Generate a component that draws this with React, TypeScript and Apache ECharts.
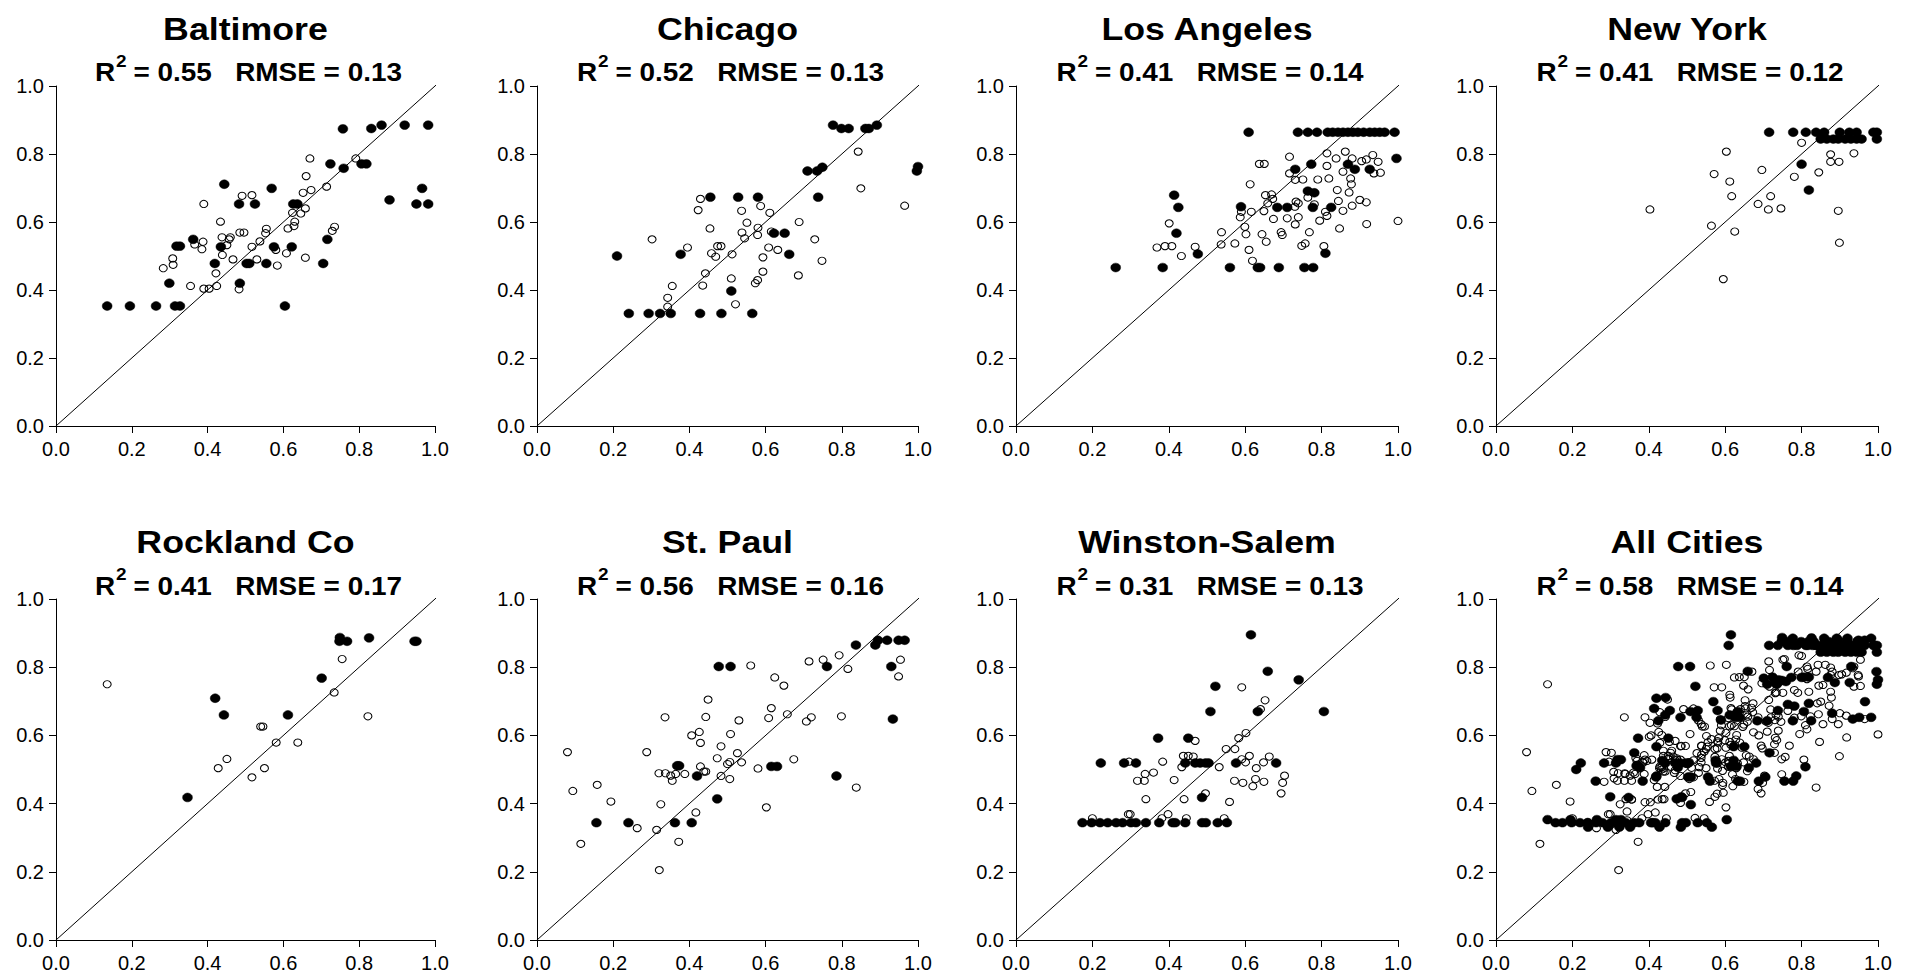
import React, { useEffect, useRef } from "react";
import * as echarts from "echarts";

// ---------- data (observed x, predicted y) ----------
const cityNames = ["Baltimore", "Chicago", "Los Angeles", "New York", "Rockland Co", "St. Paul", "Winston-Salem", "All Cities"];
const r2Values = ["0.55", "0.52", "0.41", "0.41", "0.41", "0.56", "0.31", "0.58"];
const rmseValues = ["0.13", "0.13", "0.14", "0.12", "0.17", "0.16", "0.13", "0.14"];
const tickValues = [0, 0.2, 0.4, 0.6, 0.8, 1.0];

const baltimoreFilled = [
  [0.135, 0.353], [0.195, 0.353], [0.264, 0.353], [0.314, 0.353], [0.327, 0.353], [0.604, 0.353],
  [0.299, 0.42], [0.485, 0.42], [0.419, 0.478], [0.503, 0.478], [0.51, 0.478], [0.555, 0.478], [0.705, 0.478],
  [0.318, 0.529], [0.327, 0.529], [0.435, 0.527], [0.575, 0.527], [0.622, 0.527], [0.362, 0.549], [0.716, 0.549],
  [0.444, 0.711], [0.483, 0.653], [0.525, 0.653], [0.569, 0.699], [0.626, 0.653], [0.637, 0.653],
  [0.951, 0.653], [0.982, 0.653], [0.966, 0.699], [0.88, 0.665], [0.724, 0.771], [0.759, 0.758],
  [0.806, 0.771], [0.819, 0.771], [0.757, 0.874], [0.832, 0.875], [0.859, 0.885], [0.92, 0.885], [0.982, 0.885],
];
const baltimoreOpen = [
  [0.283, 0.464], [0.308, 0.493], [0.309, 0.474], [0.355, 0.412], [0.366, 0.534], [0.385, 0.52], [0.388, 0.542],
  [0.39, 0.653], [0.39, 0.404], [0.404, 0.404], [0.422, 0.449], [0.424, 0.412], [0.434, 0.601], [0.438, 0.555],
  [0.439, 0.503], [0.451, 0.532], [0.457, 0.549], [0.46, 0.555], [0.467, 0.49], [0.483, 0.402], [0.485, 0.569],
  [0.496, 0.569], [0.491, 0.677], [0.517, 0.679], [0.517, 0.527], [0.53, 0.49], [0.538, 0.543], [0.553, 0.567],
  [0.555, 0.58], [0.58, 0.518], [0.584, 0.472], [0.608, 0.508], [0.612, 0.581], [0.624, 0.627], [0.628, 0.588],
  [0.63, 0.601], [0.646, 0.625], [0.652, 0.686], [0.658, 0.64], [0.66, 0.735], [0.658, 0.495], [0.67, 0.787],
  [0.673, 0.694], [0.714, 0.704], [0.729, 0.574], [0.735, 0.586], [0.791, 0.787],
];

const chicagoFilled = [
  [0.21, 0.5], [0.241, 0.331], [0.293, 0.331], [0.323, 0.331], [0.351, 0.331], [0.428, 0.331], [0.484, 0.331],
  [0.565, 0.331], [0.377, 0.505], [0.51, 0.397], [0.455, 0.673], [0.528, 0.673], [0.58, 0.673], [0.622, 0.567],
  [0.65, 0.567], [0.662, 0.505], [0.71, 0.75], [0.735, 0.75], [0.749, 0.761], [0.738, 0.673], [0.777, 0.885],
  [0.799, 0.875], [0.818, 0.875], [0.862, 0.875], [0.871, 0.875], [0.892, 0.885], [0.997, 0.75], [1.0, 0.763],
];
const chicagoOpen = [
  [0.302, 0.549], [0.343, 0.377], [0.343, 0.351], [0.355, 0.412], [0.395, 0.525], [0.423, 0.635], [0.429, 0.668],
  [0.435, 0.413], [0.442, 0.449], [0.454, 0.581], [0.458, 0.508], [0.469, 0.498], [0.474, 0.529], [0.483, 0.529],
  [0.51, 0.434], [0.512, 0.505], [0.521, 0.358], [0.537, 0.633], [0.538, 0.569], [0.545, 0.552], [0.551, 0.598],
  [0.573, 0.42], [0.579, 0.429], [0.579, 0.562], [0.58, 0.583], [0.587, 0.647], [0.593, 0.454], [0.593, 0.496],
  [0.608, 0.525], [0.611, 0.627], [0.615, 0.572], [0.632, 0.518], [0.686, 0.443], [0.688, 0.6], [0.729, 0.549],
  [0.748, 0.486], [0.843, 0.807], [0.85, 0.699], [0.965, 0.648],
];

const losAngelesFilled = [
  [0.261, 0.466], [0.384, 0.466], [0.56, 0.466], [0.633, 0.466], [0.639, 0.466], [0.688, 0.466], [0.755, 0.466],
  [0.778, 0.466], [0.476, 0.506], [0.81, 0.508], [0.414, 0.679], [0.425, 0.643], [0.42, 0.567], [0.589, 0.645],
  [0.684, 0.643], [0.71, 0.643], [0.777, 0.643], [0.825, 0.643], [0.764, 0.691], [0.781, 0.686], [0.731, 0.755],
  [0.773, 0.77], [0.869, 0.77], [0.887, 0.755], [0.926, 0.755], [0.996, 0.787], [0.609, 0.864], [0.738, 0.864],
  [0.764, 0.864], [0.788, 0.864], [0.816, 0.864], [0.829, 0.864], [0.843, 0.864], [0.856, 0.864], [0.869, 0.864],
  [0.882, 0.864], [0.895, 0.864], [0.91, 0.864], [0.926, 0.864], [0.939, 0.864], [0.952, 0.864], [0.965, 0.864],
  [0.991, 0.864],
];
const losAngelesOpen = [
  [0.369, 0.525], [0.39, 0.529], [0.401, 0.596], [0.408, 0.529], [0.433, 0.5], [0.469, 0.527], [0.537, 0.534],
  [0.538, 0.57], [0.573, 0.537], [0.587, 0.614], [0.59, 0.63], [0.599, 0.586], [0.602, 0.564], [0.61, 0.518],
  [0.613, 0.711], [0.616, 0.63], [0.619, 0.486], [0.637, 0.771], [0.65, 0.771], [0.644, 0.564], [0.649, 0.632],
  [0.655, 0.542], [0.653, 0.679], [0.659, 0.655], [0.669, 0.681], [0.672, 0.668], [0.674, 0.609], [0.694, 0.57],
  [0.697, 0.562], [0.71, 0.611], [0.716, 0.792], [0.716, 0.743], [0.731, 0.724], [0.73, 0.645], [0.731, 0.593],
  [0.733, 0.66], [0.739, 0.655], [0.739, 0.614], [0.751, 0.725], [0.748, 0.53], [0.757, 0.537], [0.764, 0.672],
  [0.768, 0.57], [0.781, 0.652], [0.79, 0.725], [0.795, 0.604], [0.806, 0.529], [0.81, 0.63], [0.814, 0.618],
  [0.814, 0.802], [0.814, 0.765], [0.819, 0.728], [0.838, 0.787], [0.841, 0.694], [0.844, 0.662], [0.847, 0.581],
  [0.856, 0.748], [0.856, 0.633], [0.862, 0.807], [0.872, 0.687], [0.876, 0.728], [0.878, 0.711], [0.88, 0.787],
  [0.88, 0.648], [0.9, 0.665], [0.905, 0.779], [0.917, 0.784], [0.917, 0.658], [0.918, 0.594], [0.934, 0.797],
  [0.937, 0.743], [0.948, 0.777], [0.954, 0.745], [1.0, 0.603],
];

const newYorkFilled = [
  [0.715, 0.864], [0.778, 0.864], [0.811, 0.864], [0.838, 0.864], [0.859, 0.864], [0.9, 0.864], [0.925, 0.864],
  [0.944, 0.864], [0.988, 0.864], [0.997, 0.864], [0.85, 0.844], [0.866, 0.844], [0.883, 0.844], [0.896, 0.844],
  [0.914, 0.844], [0.929, 0.844], [0.944, 0.844], [0.957, 0.844], [0.997, 0.844], [0.8, 0.77], [0.819, 0.694],
];
const newYorkOpen = [
  [0.403, 0.637], [0.564, 0.589], [0.571, 0.741], [0.595, 0.432], [0.603, 0.807], [0.612, 0.719], [0.617, 0.676],
  [0.625, 0.572], [0.686, 0.653], [0.696, 0.753], [0.713, 0.637], [0.719, 0.676], [0.746, 0.64], [0.781, 0.733],
  [0.8, 0.833], [0.845, 0.746], [0.876, 0.799], [0.876, 0.777], [0.898, 0.777], [0.896, 0.633], [0.899, 0.539],
  [0.937, 0.802],
];

const rocklandFilled = [
  [0.347, 0.418], [0.42, 0.709], [0.443, 0.66], [0.612, 0.66], [0.701, 0.768], [0.749, 0.887], [0.748, 0.876],
  [0.768, 0.876], [0.826, 0.886], [0.946, 0.876], [0.951, 0.876],
];
const rocklandOpen = [
  [0.135, 0.75], [0.428, 0.504], [0.451, 0.531], [0.517, 0.477], [0.54, 0.626], [0.546, 0.626], [0.55, 0.504],
  [0.581, 0.579], [0.638, 0.579], [0.734, 0.726], [0.755, 0.824], [0.823, 0.656],
];

const stPaulFilled = [
  [0.156, 0.344], [0.24, 0.344], [0.362, 0.344], [0.406, 0.344], [0.368, 0.511], [0.373, 0.511], [0.42, 0.481],
  [0.473, 0.414], [0.477, 0.802], [0.508, 0.802], [0.615, 0.509], [0.63, 0.509], [0.761, 0.802], [0.786, 0.481],
  [0.837, 0.865], [0.888, 0.865], [0.895, 0.879], [0.919, 0.879], [0.949, 0.879], [0.965, 0.879], [0.93, 0.802],
  [0.934, 0.648],
];
const stPaulOpen = [
  [0.08, 0.551], [0.094, 0.437], [0.115, 0.282], [0.158, 0.455], [0.194, 0.406], [0.263, 0.328], [0.288, 0.551],
  [0.314, 0.323], [0.321, 0.205], [0.32, 0.489], [0.325, 0.398], [0.336, 0.653], [0.337, 0.489], [0.351, 0.482],
  [0.355, 0.467], [0.364, 0.487], [0.372, 0.288], [0.388, 0.487], [0.406, 0.6], [0.417, 0.374], [0.426, 0.61],
  [0.429, 0.578], [0.429, 0.509], [0.438, 0.494], [0.443, 0.494], [0.443, 0.654], [0.449, 0.705], [0.473, 0.533],
  [0.483, 0.568], [0.483, 0.481], [0.5, 0.516], [0.506, 0.522], [0.506, 0.472], [0.508, 0.604], [0.526, 0.548],
  [0.53, 0.644], [0.537, 0.521], [0.561, 0.805], [0.58, 0.503], [0.602, 0.389], [0.608, 0.651], [0.615, 0.68],
  [0.624, 0.77], [0.648, 0.746], [0.657, 0.662], [0.674, 0.53], [0.707, 0.641], [0.714, 0.817], [0.72, 0.653],
  [0.751, 0.822], [0.793, 0.835], [0.799, 0.656], [0.816, 0.795], [0.838, 0.447], [0.949, 0.773], [0.954, 0.822],
];

const winstonSalemFilled = [
  [0.174, 0.344], [0.198, 0.344], [0.22, 0.344], [0.24, 0.344], [0.262, 0.344], [0.279, 0.344], [0.301, 0.344],
  [0.314, 0.344], [0.34, 0.344], [0.375, 0.344], [0.41, 0.344], [0.417, 0.344], [0.443, 0.344], [0.487, 0.344],
  [0.497, 0.344], [0.528, 0.344], [0.552, 0.344], [0.222, 0.519], [0.283, 0.519], [0.314, 0.519], [0.443, 0.519],
  [0.469, 0.519], [0.482, 0.519], [0.496, 0.519], [0.504, 0.519], [0.576, 0.519], [0.681, 0.519], [0.372, 0.592],
  [0.451, 0.592], [0.487, 0.418], [0.509, 0.67], [0.522, 0.744], [0.615, 0.895], [0.633, 0.67], [0.659, 0.788],
  [0.74, 0.763], [0.806, 0.67],
];
const winstonSalemOpen = [
  [0.2, 0.357], [0.294, 0.369], [0.299, 0.369], [0.296, 0.523], [0.318, 0.467], [0.336, 0.467], [0.338, 0.487],
  [0.34, 0.413], [0.36, 0.491], [0.382, 0.357], [0.384, 0.523], [0.398, 0.369], [0.414, 0.469], [0.434, 0.507],
  [0.438, 0.54], [0.44, 0.413], [0.446, 0.357], [0.451, 0.54], [0.464, 0.538], [0.469, 0.584], [0.496, 0.43],
  [0.532, 0.507], [0.545, 0.357], [0.55, 0.56], [0.559, 0.405], [0.572, 0.467], [0.573, 0.56], [0.583, 0.592],
  [0.591, 0.741], [0.591, 0.53], [0.594, 0.461], [0.601, 0.521], [0.602, 0.607], [0.611, 0.54], [0.62, 0.451],
  [0.627, 0.472], [0.629, 0.504], [0.64, 0.677], [0.648, 0.521], [0.649, 0.464], [0.652, 0.703], [0.663, 0.538],
  [0.694, 0.43], [0.698, 0.461], [0.703, 0.482],
];

const filledByCity = [baltimoreFilled, chicagoFilled, losAngelesFilled, newYorkFilled, rocklandFilled, stPaulFilled, winstonSalemFilled];
const openByCity = [baltimoreOpen, chicagoOpen, losAngelesOpen, newYorkOpen, rocklandOpen, stPaulOpen, winstonSalemOpen];
const allCitiesFilled = filledByCity.flat();
const allCitiesOpen = openByCity.flat();
const panelFilled = [...filledByCity, allCitiesFilled];
const panelOpen = [...openByCity, allCitiesOpen];
const diagonalEnds = [-0.04, 1.065];

// ---------- layout ----------
const colLeft = [56, 537, 1016, 1496];
const colWidth = [379, 381, 382, 382];
const rowTop = [86, 599];
const rowHeight = [340, 341];
const titleY = [28.5, 542];
const subY = [73, 586.5];
const supY = [61, 574.5];
const SX = 1.117;
const FONT = '"Liberation Sans", Arial, Helvetica, sans-serif';

function measure(text: string, font: string): number {
  const c = document.createElement("canvas").getContext("2d");
  if (!c) return text.length * 14;
  c.font = font;
  return c.measureText(text).width;
}

function textEl(text: string, x: number, y: number, size: number, align: string) {
  return {
    type: "text",
    x,
    y,
    scaleX: SX,
    silent: true,
    style: {
      text,
      font: `bold ${size}px ${FONT}`,
      fill: "#000",
      align,
      textAlign: align,
      verticalAlign: "middle",
      textVerticalAlign: "middle",
    },
  };
}

export default function App() {
  const ref = useRef<HTMLDivElement>(null);

  useEffect(() => {
    document.body.style.margin = "0";
    if (!ref.current) return;
    const chart = echarts.init(ref.current, undefined, { renderer: "svg" });

    const grids: any[] = [];
    const xAxes: any[] = [];
    const yAxes: any[] = [];
    const series: any[] = [];
    const graphics: any[] = [];

    const subFont = `bold 25px ${FONT}`;
    const supFont = `bold 17px ${FONT}`;
    const wR = measure("R", subFont);
    const w2 = measure("2", supFont);
    const wSp = measure(" ", subFont);

    for (let i = 0; i < 8; i++) {
      const r = Math.floor(i / 4);
      const c = i % 4;
      grids.push({
        left: colLeft[c],
        top: rowTop[r],
        width: colWidth[c],
        height: rowHeight[r],
        containLabel: false,
        outerBoundsMode: "none",
      });
      const axisCommon = {
        type: "value",
        gridIndex: i,
        min: tickValues[0],
        max: tickValues[tickValues.length - 1],
        interval: 0.2,
        splitLine: { show: false },
        axisLine: { show: true, onZero: false, lineStyle: { color: "#000", width: 1 } },
        axisTick: { show: true, inside: false, length: 7, lineStyle: { color: "#000", width: 1 } },
        axisLabel: {
          color: "#000",
          fontSize: 20,
          fontFamily: FONT,
          formatter: (v: number) => v.toFixed(1),
        },
      };
      xAxes.push({ ...axisCommon, axisLabel: { ...axisCommon.axisLabel, margin: 13 } });
      yAxes.push({ ...axisCommon, axisLabel: { ...axisCommon.axisLabel, margin: 12 } });

      series.push({
        type: "line",
        xAxisIndex: i,
        yAxisIndex: i,
        data: diagonalEnds.map((v) => [v, v]),
        clip: false,
        symbol: "none",
        silent: true,
        lineStyle: { color: "#000", width: 1, opacity: 1 },
      });
      series.push({
        type: "scatter",
        xAxisIndex: i,
        yAxisIndex: i,
        data: panelOpen[i],
        symbol: "circle",
        symbolSize: [8, 7.2],
        silent: true,
        itemStyle: { color: "rgba(255,255,255,0)", borderColor: "#000", borderWidth: 1, opacity: 1 },
      });
      series.push({
        type: "scatter",
        xAxisIndex: i,
        yAxisIndex: i,
        data: panelFilled[i],
        symbol: "circle",
        symbolSize: [9.8, 8.8],
        silent: true,
        itemStyle: { color: "#000", borderColor: "#000", borderWidth: 0.5, opacity: 1 },
      });

      // titles
      const cx = colLeft[c] + colWidth[c] / 2;
      graphics.push(textEl(cityNames[i], cx, titleY[r], 32, "center"));
      const partA = `= ${r2Values[i]}`;
      const partB = `RMSE = ${rmseValues[i]}`;
      const wA = measure(partA, subFont);
      const wB = measure(partB, subFont);
      const total = (wR + w2 + wSp + wA + 3 * wSp + wB) * SX;
      const x0 = cx + 3 - total / 2;
      graphics.push(textEl("R", x0, subY[r], 25, "left"));
      graphics.push(textEl("2", x0 + (wR + 0.8) * SX, supY[r], 17, "left"));
      graphics.push(textEl(partA, x0 + (wR + w2 + wSp) * SX, subY[r], 25, "left"));
      graphics.push(textEl(partB, x0 + (wR + w2 + wSp + wA + 3 * wSp) * SX, subY[r], 25, "left"));
    }

    chart.setOption({
      animation: false,
      backgroundColor: "#fff",
      grid: grids,
      xAxis: xAxes,
      yAxis: yAxes,
      series,
      graphic: { elements: graphics },
    });

    return () => chart.dispose();
  }, []);

  return <div ref={ref} style={{ width: 1910, height: 976 }} />;
}
